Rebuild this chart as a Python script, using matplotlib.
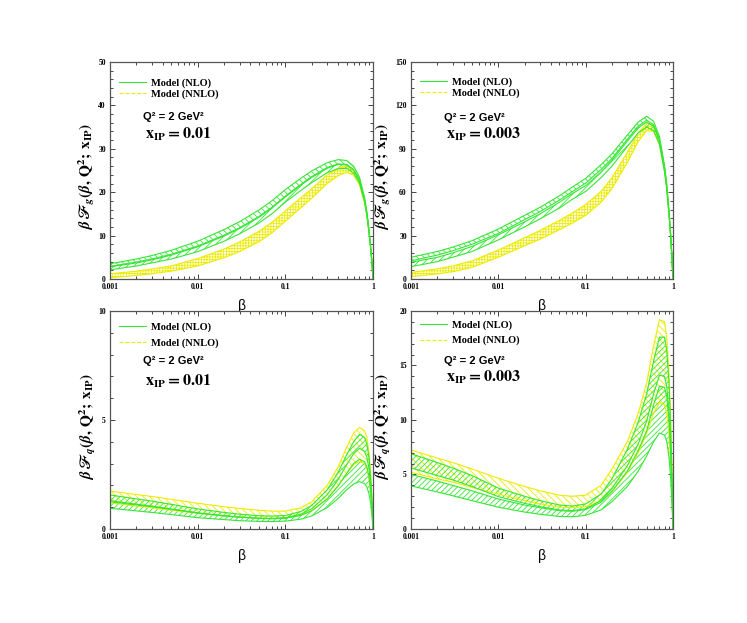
import matplotlib
matplotlib.use("Agg")
import matplotlib.pyplot as plt
from matplotlib.lines import Line2D
from matplotlib.ticker import MultipleLocator, LogLocator, NullFormatter
import numpy as np

plt.rcParams['font.family'] = ['Liberation Serif', 'DejaVu Serif']
plt.rcParams['font.weight'] = 'bold'
plt.rcParams['mathtext.fontset'] = 'stix'
plt.rcParams['hatch.linewidth'] = 0.6

# beta grid shared by all curves
beta = [0.001, 0.002, 0.003, 0.005, 0.01, 0.02, 0.03, 0.05, 0.07, 0.1, 0.15, 0.2,
        0.3, 0.4, 0.5, 0.6, 0.7, 0.8, 0.85, 0.9, 0.94, 0.97, 1.0]

# gluon, x_IP = 0.01
tl_g_hi  = [3.5, 4.6, 5.4, 6.6, 8.7, 11.4, 13.2, 15.9, 18.0, 20.6, 23.2, 24.9, 26.8, 27.5, 27.3, 26.0, 23.5, 18.8, 15.5, 11.3, 7.4, 4.0, 0]
tl_g_alo = [2.9, 3.9, 4.6, 5.7, 7.6, 10.1, 11.8, 14.4, 16.5, 19.1, 21.8, 23.6, 25.7, 26.5, 26.4, 25.2, 22.8, 18.3, 15.1, 11.0, 7.2, 3.9, 0]
tl_g_bhi = [2.8, 3.7, 4.4, 5.5, 7.4, 9.9, 11.6, 14.2, 16.3, 18.9, 21.6, 23.4, 25.5, 26.4, 26.3, 25.1, 22.7, 18.2, 15.0, 10.9, 7.1, 3.9, 0]
tl_g_lo  = [2.1, 3.0, 3.7, 4.6, 6.3, 8.7, 10.4, 12.9, 15.0, 17.7, 20.4, 22.2, 24.5, 25.4, 25.5, 24.4, 22.1, 17.7, 14.6, 10.6, 6.9, 3.8, 0]
tl_y_hi  = [1.2, 1.8, 2.3, 3.0, 4.7, 6.9, 8.5, 11.0, 13.0, 15.7, 18.7, 20.8, 24.0, 25.6, 26.1, 25.3, 22.9, 18.4, 15.2, 11.1, 7.3, 4.0, 0]
tl_y_lo  = [0.3, 0.8, 1.2, 1.8, 3.0, 4.9, 6.3, 8.6, 10.6, 13.3, 16.4, 18.6, 22.0, 23.8, 24.6, 23.9, 21.7, 17.5, 14.5, 10.6, 7.0, 3.8, 0]

# gluon, x_IP = 0.003
tr_g_hi  = [15.0, 19.0, 22.0, 26.5, 34.5, 44.0, 49.5, 57.5, 63.5, 69.5, 79.0, 86.5, 99.5, 108.5, 112.5, 109.0, 98.5, 78.5, 65.0, 47.0, 31.0, 16.5, 0]
tr_g_alo = [12.5, 16.5, 19.5, 24.0, 31.5, 41.0, 46.5, 54.5, 60.3, 66.2, 75.7, 83.3, 96.5, 105.7, 109.7, 106.6, 96.5, 76.9, 63.7, 46.0, 30.4, 16.2, 0]
tr_g_bhi = [11.5, 15.0, 18.0, 22.5, 30.5, 39.5, 45.0, 53.0, 59.0, 64.5, 74.0, 82.0, 95.3, 104.5, 108.5, 105.5, 95.5, 76.0, 63.1, 45.7, 30.2, 16.1, 0]
tr_g_lo  = [8.5, 12.0, 15.0, 19.0, 27.0, 36.0, 41.5, 49.0, 55.0, 60.5, 70.0, 78.0, 91.5, 101.0, 105.0, 102.5, 93.0, 74.0, 61.5, 44.5, 29.5, 15.7, 0]
tr_y_hi  = [4.5, 7.0, 9.0, 12.5, 20.0, 28.5, 33.5, 40.5, 45.5, 51.5, 60.5, 70.0, 87.5, 101.0, 107.5, 106.5, 96.5, 77.5, 64.3, 46.5, 30.7, 16.4, 0]
tr_y_lo  = [1.6, 3.5, 5.0, 8.0, 15.0, 23.0, 27.5, 34.0, 38.5, 44.0, 53.0, 62.5, 80.5, 95.0, 102.5, 102.0, 93.0, 75.0, 62.3, 45.0, 29.7, 15.9, 0]

# quark, x_IP = 0.01
bl_g_hi  = [1.56, 1.38, 1.28, 1.13, 0.92, 0.76, 0.68, 0.61, 0.59, 0.62, 0.80, 1.08, 1.80, 2.60, 3.40, 4.00, 4.34, 4.20, 3.90, 3.25, 2.35, 1.35, 0]
bl_g_alo = [1.25, 1.10, 1.02, 0.90, 0.73, 0.60, 0.54, 0.49, 0.48, 0.52, 0.68, 0.93, 1.57, 2.27, 2.95, 3.45, 3.70, 3.55, 3.30, 2.75, 2.00, 1.15, 0]
bl_g_bhi = [1.30, 1.14, 1.05, 0.92, 0.74, 0.61, 0.55, 0.49, 0.47, 0.49, 0.62, 0.83, 1.38, 1.98, 2.55, 3.00, 3.20, 3.08, 2.85, 2.38, 1.72, 1.00, 0]
bl_g_lo  = [0.95, 0.83, 0.76, 0.66, 0.52, 0.43, 0.38, 0.35, 0.34, 0.36, 0.45, 0.60, 0.98, 1.40, 1.80, 2.06, 2.17, 2.08, 1.93, 1.60, 1.16, 0.67, 0]
bl_y_hi  = [1.74, 1.58, 1.49, 1.36, 1.18, 1.02, 0.94, 0.86, 0.82, 0.82, 0.97, 1.25, 2.00, 2.85, 3.75, 4.40, 4.66, 4.50, 4.20, 3.50, 2.55, 1.45, 0]
bl_y_lo  = [1.20, 1.05, 0.97, 0.86, 0.72, 0.60, 0.55, 0.50, 0.49, 0.51, 0.64, 0.85, 1.38, 1.98, 2.55, 2.95, 3.10, 3.00, 2.78, 2.30, 1.68, 0.97, 0]

# quark, x_IP = 0.003
br_g_hi  = [6.9, 6.1, 5.6, 4.9, 3.75, 3.0, 2.6, 2.2, 2.1, 2.3, 3.2, 4.6, 7.3, 9.8, 12.4, 15.4, 17.6, 17.6, 16.3, 13.4, 9.6, 5.5, 0]
br_g_alo = [5.6, 4.9, 4.5, 3.9, 2.97, 2.35, 2.05, 1.75, 1.68, 1.85, 2.6, 3.7, 5.8, 7.8, 9.9, 12.4, 14.1, 14.0, 13.0, 10.7, 7.7, 4.4, 0]
br_g_bhi = [5.0, 4.4, 4.0, 3.5, 2.75, 2.2, 1.95, 1.68, 1.62, 1.78, 2.45, 3.45, 5.3, 7.2, 9.0, 11.4, 13.1, 13.0, 12.1, 10.0, 7.2, 4.1, 0]
br_g_lo  = [3.95, 3.4, 3.05, 2.6, 2.0, 1.55, 1.35, 1.15, 1.12, 1.25, 1.75, 2.5, 3.9, 5.3, 6.7, 8.0, 8.8, 8.6, 8.0, 6.6, 4.7, 2.7, 0]
br_y_hi  = [7.25, 6.5, 6.1, 5.5, 4.65, 3.9, 3.5, 3.1, 3.0, 3.1, 4.0, 5.5, 8.0, 10.6, 13.4, 16.8, 19.2, 19.0, 17.5, 14.3, 10.3, 5.9, 0]
br_y_lo  = [5.2, 4.6, 4.3, 3.8, 3.2, 2.6, 2.3, 2.0, 1.95, 2.05, 2.6, 3.4, 5.2, 7.0, 8.8, 10.6, 11.6, 11.4, 10.6, 8.7, 6.2, 3.6, 0]

xticks = [0.001, 0.01, 0.1, 1]
xticklabels = ['0.001', '0.01', '0.1', '1']

green = '#35e635'
yellow = '#ecec00'

panels = [
    dict(rect=[0.1473, 0.5522, 0.3521, 0.3483], ymax=50, ystep=10, yminor=2, part='g', xip='0.01',
         data=(tl_g_hi, tl_g_alo, tl_g_bhi, tl_g_lo, tl_y_hi, tl_y_lo), labx=-0.05,
         leg=0.955, lsp=0.15, q2=0.747, xy=0.668, yhatch='++++++', ga='\\\\\\\\\\', gb='/////'),
    dict(rect=[0.5502, 0.5522, 0.3507, 0.3483], ymax=150, ystep=30, yminor=6, part='g', xip='0.003',
         data=(tr_g_hi, tr_g_alo, tr_g_bhi, tr_g_lo, tr_y_hi, tr_y_lo), labx=-0.069,
         leg=0.96, lsp=0.15, q2=0.742, xy=0.668, yhatch='++++++', ga='\\\\\\\\\\', gb='/////'),
    dict(rect=[0.1473, 0.1509, 0.3521, 0.3500], ymax=10, ystep=5, yminor=1, part='q', xip='0.01',
         data=(bl_g_hi, bl_g_alo, bl_g_bhi, bl_g_lo, bl_y_hi, bl_y_lo), labx=-0.045,
         leg=0.975, lsp=0.55, q2=0.77, xy=0.676, yhatch='\\\\\\\\\\', ga='//////', gb='//////'),
    dict(rect=[0.5502, 0.1509, 0.3507, 0.3500], ymax=20, ystep=5, yminor=1, part='q', xip='0.003',
         data=(br_g_hi, br_g_alo, br_g_bhi, br_g_lo, br_y_hi, br_y_lo), labx=-0.069,
         leg=0.985, lsp=0.55, q2=0.77, xy=0.696, yhatch='\\\\\\\\\\', ga='//////', gb='//////'),
]

fig = plt.figure(figsize=(7.47, 6.23), dpi=100)

for p in panels:
    ax = fig.add_axes(p['rect'])
    g_hi, g_alo, g_bhi, g_lo, y_hi, y_lo = p['data']

    # NNLO band
    ax.fill_between(beta, y_lo, y_hi, facecolor='none', edgecolor=yellow,
                    hatch=p['yhatch'], linewidth=0)
    ax.plot(beta, y_hi, color=yellow, lw=0.8)
    ax.plot(beta, y_lo, color=yellow, lw=0.8)
    # NLO bands
    ax.fill_between(beta, g_alo, g_hi, facecolor='none', edgecolor=green,
                    hatch=p['ga'], linewidth=0)
    ax.fill_between(beta, g_lo, g_bhi, facecolor='none', edgecolor=green,
                    hatch=p['gb'], linewidth=0)
    for c in (g_hi, g_alo, g_bhi, g_lo):
        ax.plot(beta, c, color=green, lw=0.8)

    ax.set_xscale('log')
    ax.set_xlim(0.001, 1)
    ax.set_ylim(0, p['ymax'])
    ax.set_xticks(xticks, xticklabels)
    ax.xaxis.set_minor_locator(LogLocator(base=10, subs=np.arange(2, 10)))
    ax.xaxis.set_minor_formatter(NullFormatter())
    ax.yaxis.set_major_locator(MultipleLocator(p['ystep']))
    ax.yaxis.set_minor_locator(MultipleLocator(p['yminor']))
    ax.tick_params(which='both', direction='in', top=True, right=True,
                   labelsize=5.5, color='#444444', width=0.7, pad=3)
    ax.tick_params(which='major', length=3.5)
    ax.tick_params(which='minor', length=2)
    for s in ax.spines.values():
        s.set_color('#555555')
        s.set_linewidth(0.9)

    ax.set_xlabel('β', fontfamily='Liberation Sans', fontweight='normal',
                  fontsize=10, labelpad=6)
    ax.set_ylabel(r'$\beta\,ℱ_{%s}(\beta,\,\mathrm{Q}^{2};\,\mathrm{x}_{\mathrm{IP}})$' % p['part'],
                  fontsize=11)
    ax.yaxis.set_label_coords(p['labx'], 0.47)

    handles = [Line2D([], [], color=green, lw=0.8),
               Line2D([], [], color=yellow, lw=0.8, ls='--')]
    ax.legend(handles, ['Model (NLO)', 'Model (NNLO)'], loc='upper left',
              bbox_to_anchor=(0.01, p['leg']), frameon=False,
              prop={'family': 'Liberation Serif', 'weight': 'bold', 'size': 7.5},
              handlelength=2.6, handletextpad=0.5, labelspacing=p['lsp'],
              borderaxespad=0.2)
    ax.text(0.125, p['q2'], 'Q² = 2 GeV²', transform=ax.transAxes,
            fontfamily='Liberation Sans', fontweight='bold', fontsize=8, va='center')
    ax.text(0.133, p['xy'], r'$\mathbf{x_{IP} = %s}$' % p['xip'],
            transform=ax.transAxes, fontsize=11.5, va='center')

fig.savefig('out.png', dpi=100)
